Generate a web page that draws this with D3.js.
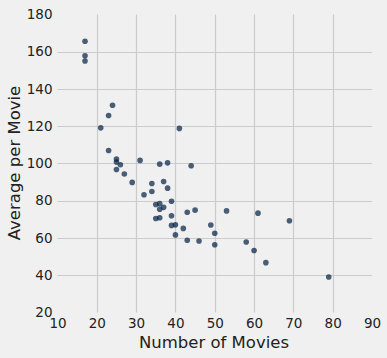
<!DOCTYPE html>
<html><head><meta charset="utf-8">
<script src="https://cdn.jsdelivr.net/npm/d3@7"></script>
<style>
html,body{margin:0;padding:0;background:#f0f0f0;}
svg{display:block;}
text{font-family:"DejaVu Sans",sans-serif;fill:#222;}
</style></head><body>
<script>
const numberOfMovies = [17,17,17,21,23,24,23,25,25,25,26,27,29,31,32,34,34,35,35,36,36,36,36,37,37,38,38,39,39,39,40,40,41,42,43,43,44,45,46,49,50,50,53,58,60,61,63,69,79];
const averagePerMovie = [165.6,157.8,155.0,119.1,125.7,131.2,106.9,102.3,100.7,96.7,99.3,94.3,89.8,101.6,83.2,89.2,84.9,77.9,70.4,99.6,78.4,75.4,70.8,90.3,76.4,100.3,86.7,79.7,71.9,66.7,67.0,61.6,118.8,65.1,73.8,58.7,98.7,74.9,58.3,66.9,62.5,56.3,74.5,57.8,53.2,73.3,46.7,69.2,39.0];
const xTicks = [10,20,30,40,50,60,70,80,90];
const yTicks = [20,40,60,80,100,120,140,160,180];
const xLabel = "Number of Movies";
const yLabel = "Average per Movie";

const W = 387, H = 358;
const svg = d3.select("body").append("svg").attr("width", W).attr("height", H);
svg.append("rect").attr("width", W).attr("height", H).attr("fill", "#f0f0f0");

const x = d3.scaleLinear().domain([10, 90]).range([57.5, 372]);
const y = d3.scaleLinear().domain([20, 180]).range([312.4, 14.4]);

const grid = svg.append("g");
grid.selectAll("line.v").data(xTicks.slice(1, -1)).join("line")
  .attr("x1", d => Math.round(x(d)) + 0.5).attr("x2", d => Math.round(x(d)) + 0.5)
  .attr("y1", y(180)).attr("y2", y(20))
  .attr("stroke", "#cbcbcb").attr("stroke-width", 1.2);
grid.selectAll("line.h").data(yTicks.slice(1, -1)).join("line")
  .attr("y1", d => Math.round(y(d)) + 0.5).attr("y2", d => Math.round(y(d)) + 0.5)
  .attr("x1", x(10)).attr("x2", x(90))
  .attr("stroke", "#cbcbcb").attr("stroke-width", 1.2);

const xAxis = svg.append("g").attr("transform", `translate(0,${y(20)})`)
  .call(d3.axisBottom(x).tickValues(xTicks).tickSize(0).tickPadding(6).tickFormat(d3.format("d")));
const yAxis = svg.append("g").attr("transform", `translate(${x(10)},0)`)
  .call(d3.axisLeft(y).tickValues(yTicks).tickSize(0).tickPadding(5).tickFormat(d3.format("d")));
[xAxis, yAxis].forEach(a => {
  a.select(".domain").remove();
  a.selectAll("text").attr("font-family", "DejaVu Sans").attr("font-size", "13.5px").attr("fill", "#222");
});

const pts = numberOfMovies.map((n, i) => ({n, a: averagePerMovie[i]}));
svg.append("g").selectAll("circle").data(pts).join("circle")
  .attr("cx", d => x(d.n)).attr("cy", d => y(d.a)).attr("r", 2.8)
  .attr("fill", "rgb(0,30,66)").attr("fill-opacity", 0.7);

svg.append("text").attr("x", 214).attr("y", 348).attr("text-anchor", "middle")
  .attr("font-size", "16.5px").text(xLabel);
svg.append("text").attr("transform", "translate(19.5,163) rotate(-90)").attr("text-anchor", "middle")
  .attr("font-size", "16.5px").text(yLabel);
</script>
</body></html>
